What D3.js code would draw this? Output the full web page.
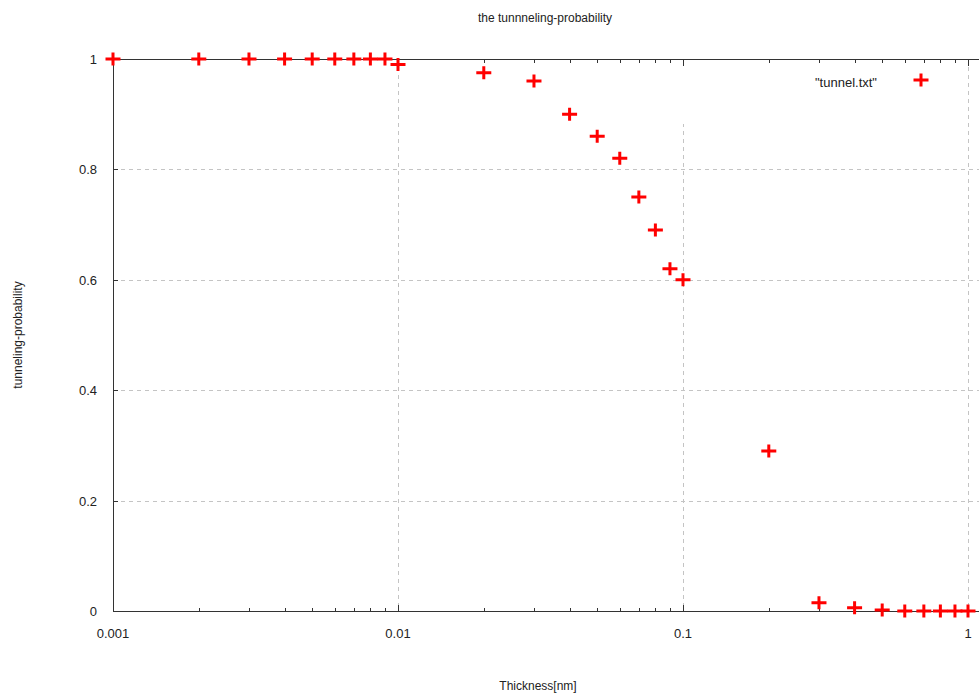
<!DOCTYPE html>
<html>
<head>
<meta charset="UTF-8">
<title>the tunnneling-probability</title>
<script type="text/javascript" src="https://d3js.org/d3.v7.min.js"></script>
<style>
body {margin: 0; background: #fff;}
svg text {font-family: "Liberation Sans", Arial, sans-serif; fill: #222;}
</style>
</head>
<body>
<div id="chart"></div>
<script type="text/javascript">
// data
var thickness = [0.001, 0.002, 0.003, 0.004, 0.005, 0.006, 0.007, 0.008, 0.009,
                 0.01, 0.02, 0.03, 0.04, 0.05, 0.06, 0.07, 0.08, 0.09,
                 0.1, 0.2, 0.3, 0.4, 0.5, 0.6, 0.7, 0.8, 0.9, 1.0];
var probability = [1, 1, 1, 1, 1, 1, 1, 1, 1,
                   0.99, 0.975, 0.96, 0.90, 0.86, 0.82, 0.75, 0.69, 0.62,
                   0.60, 0.29, 0.015, 0.006, 0.002, 0, 0, 0, 0, 0];
var xTicks = [0.001, 0.01, 0.1, 1];
var xTickLabels = ["0.001", "0.01", "0.1", "1"];
var yTicks = [0, 0.2, 0.4, 0.6, 0.8, 1];
var yTickLabels = ["0", "0.2", "0.4", "0.6", "0.8", "1"];
var seriesName = "\"tunnel.txt\"";

//Width and height
var w = 979;
var h = 694;
// plot area edges (note: "top" is taken by window.top)
var pLeft = 113, pRight = 968, pTop = 59, pBottom = 611;

var x = d3.scaleLog().domain([0.001, 1]).range([pLeft, pRight]);
var y = d3.scaleLinear().domain([0, 1]).range([pBottom, pTop]);

var svg = d3.select("#chart")
      .append("svg")
      .attr("width", w)
      .attr("height", h);

// minor ticks (2..9 of each decade)
var minor = [];
[0.001, 0.01, 0.1].forEach(function(d) {
  for (var k = 2; k <= 9; k++) minor.push(d * k);
});

// grid
var grid = svg.append("g")
      .attr("stroke", "#c4c4c4")
      .attr("stroke-width", 1)
      .attr("stroke-dasharray", "4,4");
grid.selectAll(".gy")
    .data(yTicks.filter(function(d) { return d > 0 && d < 1; }))
    .enter().append("line")
    .attr("x1", pLeft).attr("x2", w)
    .attr("y1", function(d) { return Math.round(y(d)) + 0.5; })
    .attr("y2", function(d) { return Math.round(y(d)) + 0.5; });
grid.selectAll(".gx")
    .data(xTicks.filter(function(d) { return d > 0.001; }))
    .enter().append("line")
    .attr("x1", function(d) { return Math.round(x(d)) + 0.5; })
    .attr("x2", function(d) { return Math.round(x(d)) + 0.5; })
    .attr("y1", pTop).attr("y2", pBottom);

// key area is cleared like gnuplot does
svg.append("rect")
    .attr("x", 640).attr("y", pTop + 1)
    .attr("width", 320).attr("height", 64)
    .attr("fill", "#fff");

// border: left, bottom, top
var axis = svg.append("g").attr("stroke", "#333").attr("stroke-width", 1);
axis.append("line").attr("x1", pLeft + 0.5).attr("x2", pLeft + 0.5).attr("y1", pTop).attr("y2", pBottom + 0.5);
axis.append("line").attr("x1", pLeft).attr("x2", w).attr("y1", pBottom + 0.5).attr("y2", pBottom + 0.5);
axis.append("line").attr("x1", pLeft).attr("x2", w).attr("y1", pTop + 0.5).attr("y2", pTop + 0.5);

// x ticks, bottom (inward) and mirrored on top
axis.selectAll(".xmaj")
    .data(xTicks)
    .enter().append("path")
    .attr("d", function(d) {
      var px = Math.round(x(d)) + 0.5;
      return "M" + px + "," + pBottom + "v-6M" + px + "," + pTop + "v7";
    });
axis.selectAll(".xmin")
    .data(minor)
    .enter().append("path")
    .attr("d", function(d) {
      var px = Math.round(x(d)) + 0.5;
      return "M" + px + "," + pBottom + "v-3M" + px + "," + pTop + "v4";
    });
// y ticks
axis.selectAll(".ymaj")
    .data(yTicks)
    .enter().append("path")
    .attr("d", function(d) {
      var py = Math.round(y(d)) + 0.5;
      return "M" + pLeft + "," + py + "h5";
    });

// tick labels
svg.selectAll(".xl")
    .data(xTicks)
    .enter().append("text")
    .attr("x", function(d) { return x(d); })
    .attr("y", 638)
    .attr("text-anchor", "middle")
    .style("font-size", "13px")
    .text(function(d, i) { return xTickLabels[i]; });
svg.selectAll(".yl")
    .data(yTicks)
    .enter().append("text")
    .attr("x", 97)
    .attr("y", function(d) { return y(d) + 5; })
    .attr("text-anchor", "end")
    .style("font-size", "13px")
    .text(function(d, i) { return yTickLabels[i]; });

// titles
svg.append("text")
    .attr("x", 545).attr("y", 22)
    .attr("text-anchor", "middle")
    .style("font-size", "12px")
    .text("the tunnneling-probability");
svg.append("text")
    .attr("x", 538).attr("y", 690)
    .attr("text-anchor", "middle")
    .style("font-size", "12px")
    .text("Thickness[nm]");
svg.append("text")
    .attr("transform", "translate(22,335) rotate(-90)")
    .attr("text-anchor", "middle")
    .style("font-size", "12px")
    .text("tunneling-probability");

// points as plus signs
function plus(px, py) {
  return "M" + (px - 7.5) + "," + py + "h15M" + px + "," + (py - 6.5) + "v13";
}
svg.append("g")
    .selectAll("path")
    .data(thickness)
    .enter().append("path")
    .attr("d", function(d, i) { return plus(x(d), y(probability[i])); })
    .attr("stroke", "#ff0000")
    .attr("stroke-width", 3)
    .attr("fill", "none");

// key
svg.append("text")
    .attr("x", 877).attr("y", 87)
    .attr("text-anchor", "end")
    .style("font-size", "13px")
    .text(seriesName);
svg.append("path")
    .attr("d", plus(921, 80))
    .attr("stroke", "#ff0000")
    .attr("stroke-width", 3);
</script>
</body>
</html>
